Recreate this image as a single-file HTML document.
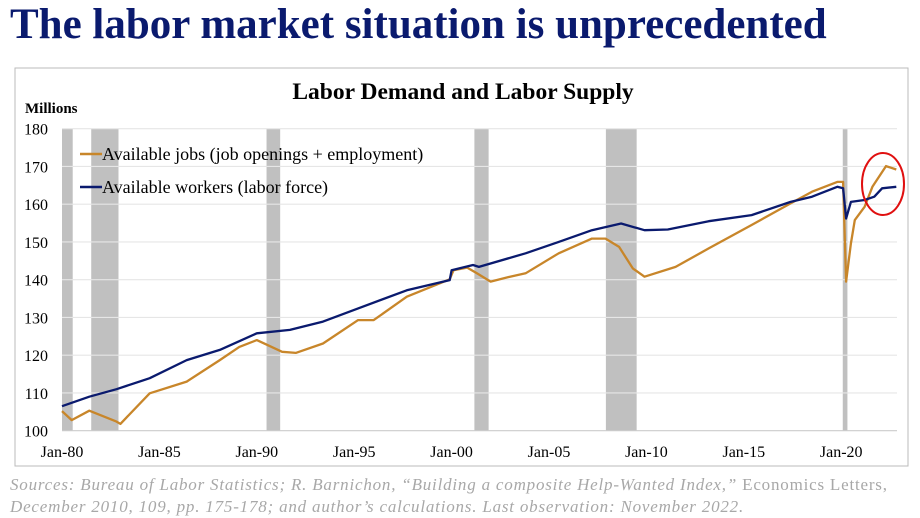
<!DOCTYPE html>
<html><head><meta charset="utf-8"><style>
body{margin:0;width:920px;height:517px;background:#fff;overflow:hidden;font-family:"Liberation Serif",serif}
#title{position:absolute;left:10px;top:0px;font-size:43px;font-weight:bold;color:#0a1a6e;letter-spacing:0px;white-space:nowrap}
#src{position:absolute;left:10px;top:474px;font-size:17px;line-height:22px;color:#a8a8a8;font-style:italic;letter-spacing:0.8px;white-space:nowrap}
#src span{font-style:normal}
</style></head><body>
<div id="title">The labor market situation is unprecedented</div>
<svg width="920" height="517" style="position:absolute;left:0;top:0" id="chart">
<rect x="15" y="68" width="893" height="398" fill="none" stroke="#bbb"/>
<text x="463" y="99" text-anchor="middle" font-size="23.5" font-weight="bold" font-family="Liberation Serif">Labor Demand and Labor Supply</text>
<text x="25" y="113" font-size="15" font-weight="bold" font-family="Liberation Serif">Millions</text>
<g id="rec"></g><g id="grid"></g><g id="xt"></g><g id="lines"></g>
<g>
<line x1="80" y1="154" x2="102" y2="154" stroke="#c8862a" stroke-width="2.5"/>
<text x="102" y="160" font-size="18" font-family="Liberation Serif">Available jobs (job openings + employment)</text>
<line x1="80" y1="187" x2="102" y2="187" stroke="#0a1a6e" stroke-width="2.5"/>
<text x="102" y="193" font-size="18" font-family="Liberation Serif">Available workers (labor force)</text>
</g>
<ellipse cx="883" cy="184" rx="21" ry="31" fill="none" stroke="#e01010" stroke-width="2"/>
</svg>
<div id="src">Sources: Bureau of Labor Statistics; R. Barnichon, “Building a composite Help-Wanted Index,” <span>Economics Letters,</span><br>December 2010, 109, pp. 175-178; and author’s calculations. Last observation: November 2022.</div>
<script>
const yTicks=[100,110,120,130,140,150,160,170,180];
const xTickYears=[1980,1985,1990,1995,2000,2005,2010,2015,2020];
const xTickLabels=["Jan-80","Jan-85","Jan-90","Jan-95","Jan-00","Jan-05","Jan-10","Jan-15","Jan-20"];
const recStart=[1980.0,1981.5,1990.5,2001.17,2007.92,2020.08];
const recEnd=[1980.55,1982.9,1991.2,2001.9,2009.5,2020.32];
const workerYears=[1980,1981.4,1982.8,1984.5,1986.4,1988.1,1990,1991.7,1993.4,1995.2,1997.7,1999.9,2000.0,2001.1,2001.4,2003.8,2005.5,2007.2,2008.7,2009.9,2011.1,2013.2,2015.4,2017.4,2018.5,2019.8,2020.1,2020.25,2020.5,2021.2,2021.7,2022.1,2022.83];
const workerVals=[106.5,109,111,113.9,118.7,121.4,125.8,126.7,128.9,132.4,137.2,139.9,142.5,143.9,143.4,147,150,153.1,154.9,153.1,153.3,155.5,157.1,160.6,162,164.6,164.2,156.2,160.6,161.1,162,164.2,164.6];
const jobYears=[1980,1980.5,1981.4,1982.8,1983.0,1984.5,1986.4,1988.1,1989.1,1990,1991.3,1992,1993.4,1995.2,1996,1997.7,1999.9,2000.1,2000.8,2001.3,2002,2003,2003.8,2005.5,2007.2,2007.9,2008.6,2009.3,2009.9,2011.5,2013.2,2015.4,2017.4,2018.5,2019.8,2020.1,2020.25,2020.5,2020.7,2021.2,2021.6,2022.3,2022.83];
const jobVals=[105.2,102.8,105.3,102.4,101.8,109.9,113,118.7,122.2,124,120.9,120.6,123.1,129.3,129.3,135.5,140.1,142.5,143.2,141.7,139.5,140.8,141.7,147,150.9,150.9,148.7,143,140.8,143.4,148.3,154.5,160.2,163.3,165.9,165.9,139.5,149.6,155.8,159.3,164.6,170.1,169.2];
const X=y=>62+(y-1980)*19.48, Y=v=>430.7-(v-100)*3.775;
const NS="http://www.w3.org/2000/svg";
function mk(t,p,a){const e=document.createElementNS(NS,t);for(const k in a)e.setAttribute(k,a[k]);p.appendChild(e);return e;}
const rec=document.getElementById('rec');
recStart.forEach((s,i)=>{const r=mk('rect',rec,{x:X(s),y:Y(180),width:X(recEnd[i])-X(s),height:Y(100)-Y(180),fill:'#c0c0c0'});

});
const g=document.getElementById('grid');
yTicks.forEach(v=>{const l=mk('line',g,{x1:62,x2:897,y1:Y(v),y2:Y(v),stroke:v==100?'#ccc':'#e6e6e6','stroke-width':1.2});


const t=mk('text',g,{x:48,y:Y(v)+6,'text-anchor':'end','font-size':16,'font-family':'Liberation Serif'});t.textContent=v;

});
const xt=document.getElementById('xt');
xTickYears.forEach((yr,i)=>{const t=mk('text',xt,{x:X(yr),y:457,'text-anchor':'middle','font-size':16,'font-family':'Liberation Serif'});t.textContent=xTickLabels[i];

});
const L=document.getElementById('lines');
function path(xs,vs,c,n){const d=xs.map((x,i)=>(i?'L':'M')+X(x).toFixed(1)+','+Y(vs[i]).toFixed(1)).join('');
const p=mk('path',L,{d:d,fill:'none',stroke:c,'stroke-width':2.3,'stroke-linejoin':'round'});

}
path(jobYears,jobVals,'#c8862a','jobs-line');
path(workerYears,workerVals,'#0a1a6e','workers-line');
</script>
</body></html>
